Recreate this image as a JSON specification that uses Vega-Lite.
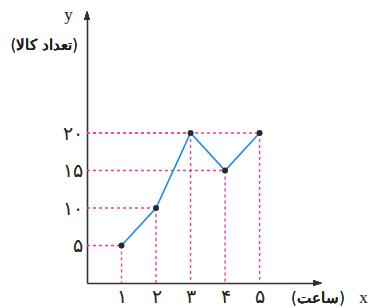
{
  "$schema": "https://vega.github.io/schema/vega-lite/v6.json",
  "width": 233,
  "height": 270,
  "autosize": {"type": "none"},
  "padding": {"left": 87, "top": 13, "right": 53, "bottom": 25},
  "background": "white",
  "config": {"view": {"stroke": null}},
  "data": {"values": [
    {"x": 1, "y": 5},
    {"x": 2, "y": 10},
    {"x": 3, "y": 20},
    {"x": 4, "y": 15},
    {"x": 5, "y": 20}
  ]},
  "encoding": {
    "x": {"field": "x", "type": "quantitative", "scale": {"domain": [0, 6.75], "nice": false, "zero": false},
      "axis": {"values": [1, 2, 3, 4, 5], "labelExpr": "['','۱','۲','۳','۴','۵'][datum.value]", "grid": false, "ticks": false,
        "domainColor": "#333333", "domainWidth": 1.6, "labelFont": "DejaVu Sans", "labelFontWeight": 300, "labelFontSize": 19, "labelColor": "#222222", "labelPadding": 4,
        "title": "x", "titleFont": "Liberation Serif", "titleFontWeight": "normal", "titleFontSize": 17, "titleColor": "#222222",
        "titleX": 276, "titleY": 14, "titleAlign": "center", "titleBaseline": "middle", "titleAnchor": null}},
    "y": {"field": "y", "type": "quantitative", "scale": {"domain": [0, 36], "nice": false, "zero": false},
      "axis": {"values": [5, 10, 15, 20], "labelExpr": "({'5':'۵','10':'۱۰','15':'۱۵','20':'۲۰'})[datum.value]", "grid": false, "ticks": false,
        "domainColor": "#333333", "domainWidth": 1.6, "labelFont": "DejaVu Sans", "labelFontWeight": 300, "labelFontSize": 19, "labelColor": "#222222", "labelPadding": 5,
        "title": "y", "titleFont": "Liberation Serif", "titleFontWeight": "normal", "titleFontSize": 17, "titleColor": "#222222", "titleAngle": 0,
        "titleX": -19, "titleY": 1, "titleAlign": "center", "titleBaseline": "middle"}},
    "tooltip": {"value": null}
  },
  "layer": [
    {"mark": {"type": "rule", "color": "#ee3d96", "strokeDash": [3, 3], "strokeWidth": 1.4},
     "encoding": {"x": {"datum": 0}, "x2": {"field": "x"}}},
    {"mark": {"type": "rule", "color": "#ee3d96", "strokeDash": [3, 3], "strokeWidth": 1.4},
     "encoding": {"y": {"field": "y", "type": "quantitative"}, "y2": {"datum": 0}}},
    {"mark": {"type": "line", "color": "#1e88f0", "strokeWidth": 1.6}},
    {"mark": {"type": "point", "filled": true, "color": "#2a2a2a", "size": 36, "opacity": 1}},
    {"mark": {"type": "point", "filled": true, "color": "#333333", "opacity": 1, "size": 100, "shape": "M0,-0.4L0.6,1.4L-0.6,1.4Z"},
     "encoding": {"x": {"datum": 0}, "y": {"datum": 36}}},
    {"mark": {"type": "point", "filled": true, "color": "#333333", "opacity": 1, "size": 100, "shape": "M0.4,0L-1.4,0.6L-1.4,-0.6Z"},
     "encoding": {"x": {"datum": 6.75}, "y": {"datum": 0}}},
    {"mark": {"type": "text", "text": "(تعداد کالا)", "font": "DejaVu Sans", "fontWeight": 300, "fontSize": 15, "color": "#222222", "align": "center", "baseline": "middle"},
     "encoding": {"x": {"datum": -1.24}, "y": {"datum": 31.7}}},
    {"mark": {"type": "text", "text": "(ساعت)", "font": "DejaVu Sans", "fontWeight": 300, "fontSize": 15, "color": "#222222", "align": "center", "baseline": "middle"},
     "encoding": {"x": {"datum": 6.69}, "y": {"datum": -2}}}
  ]
}
